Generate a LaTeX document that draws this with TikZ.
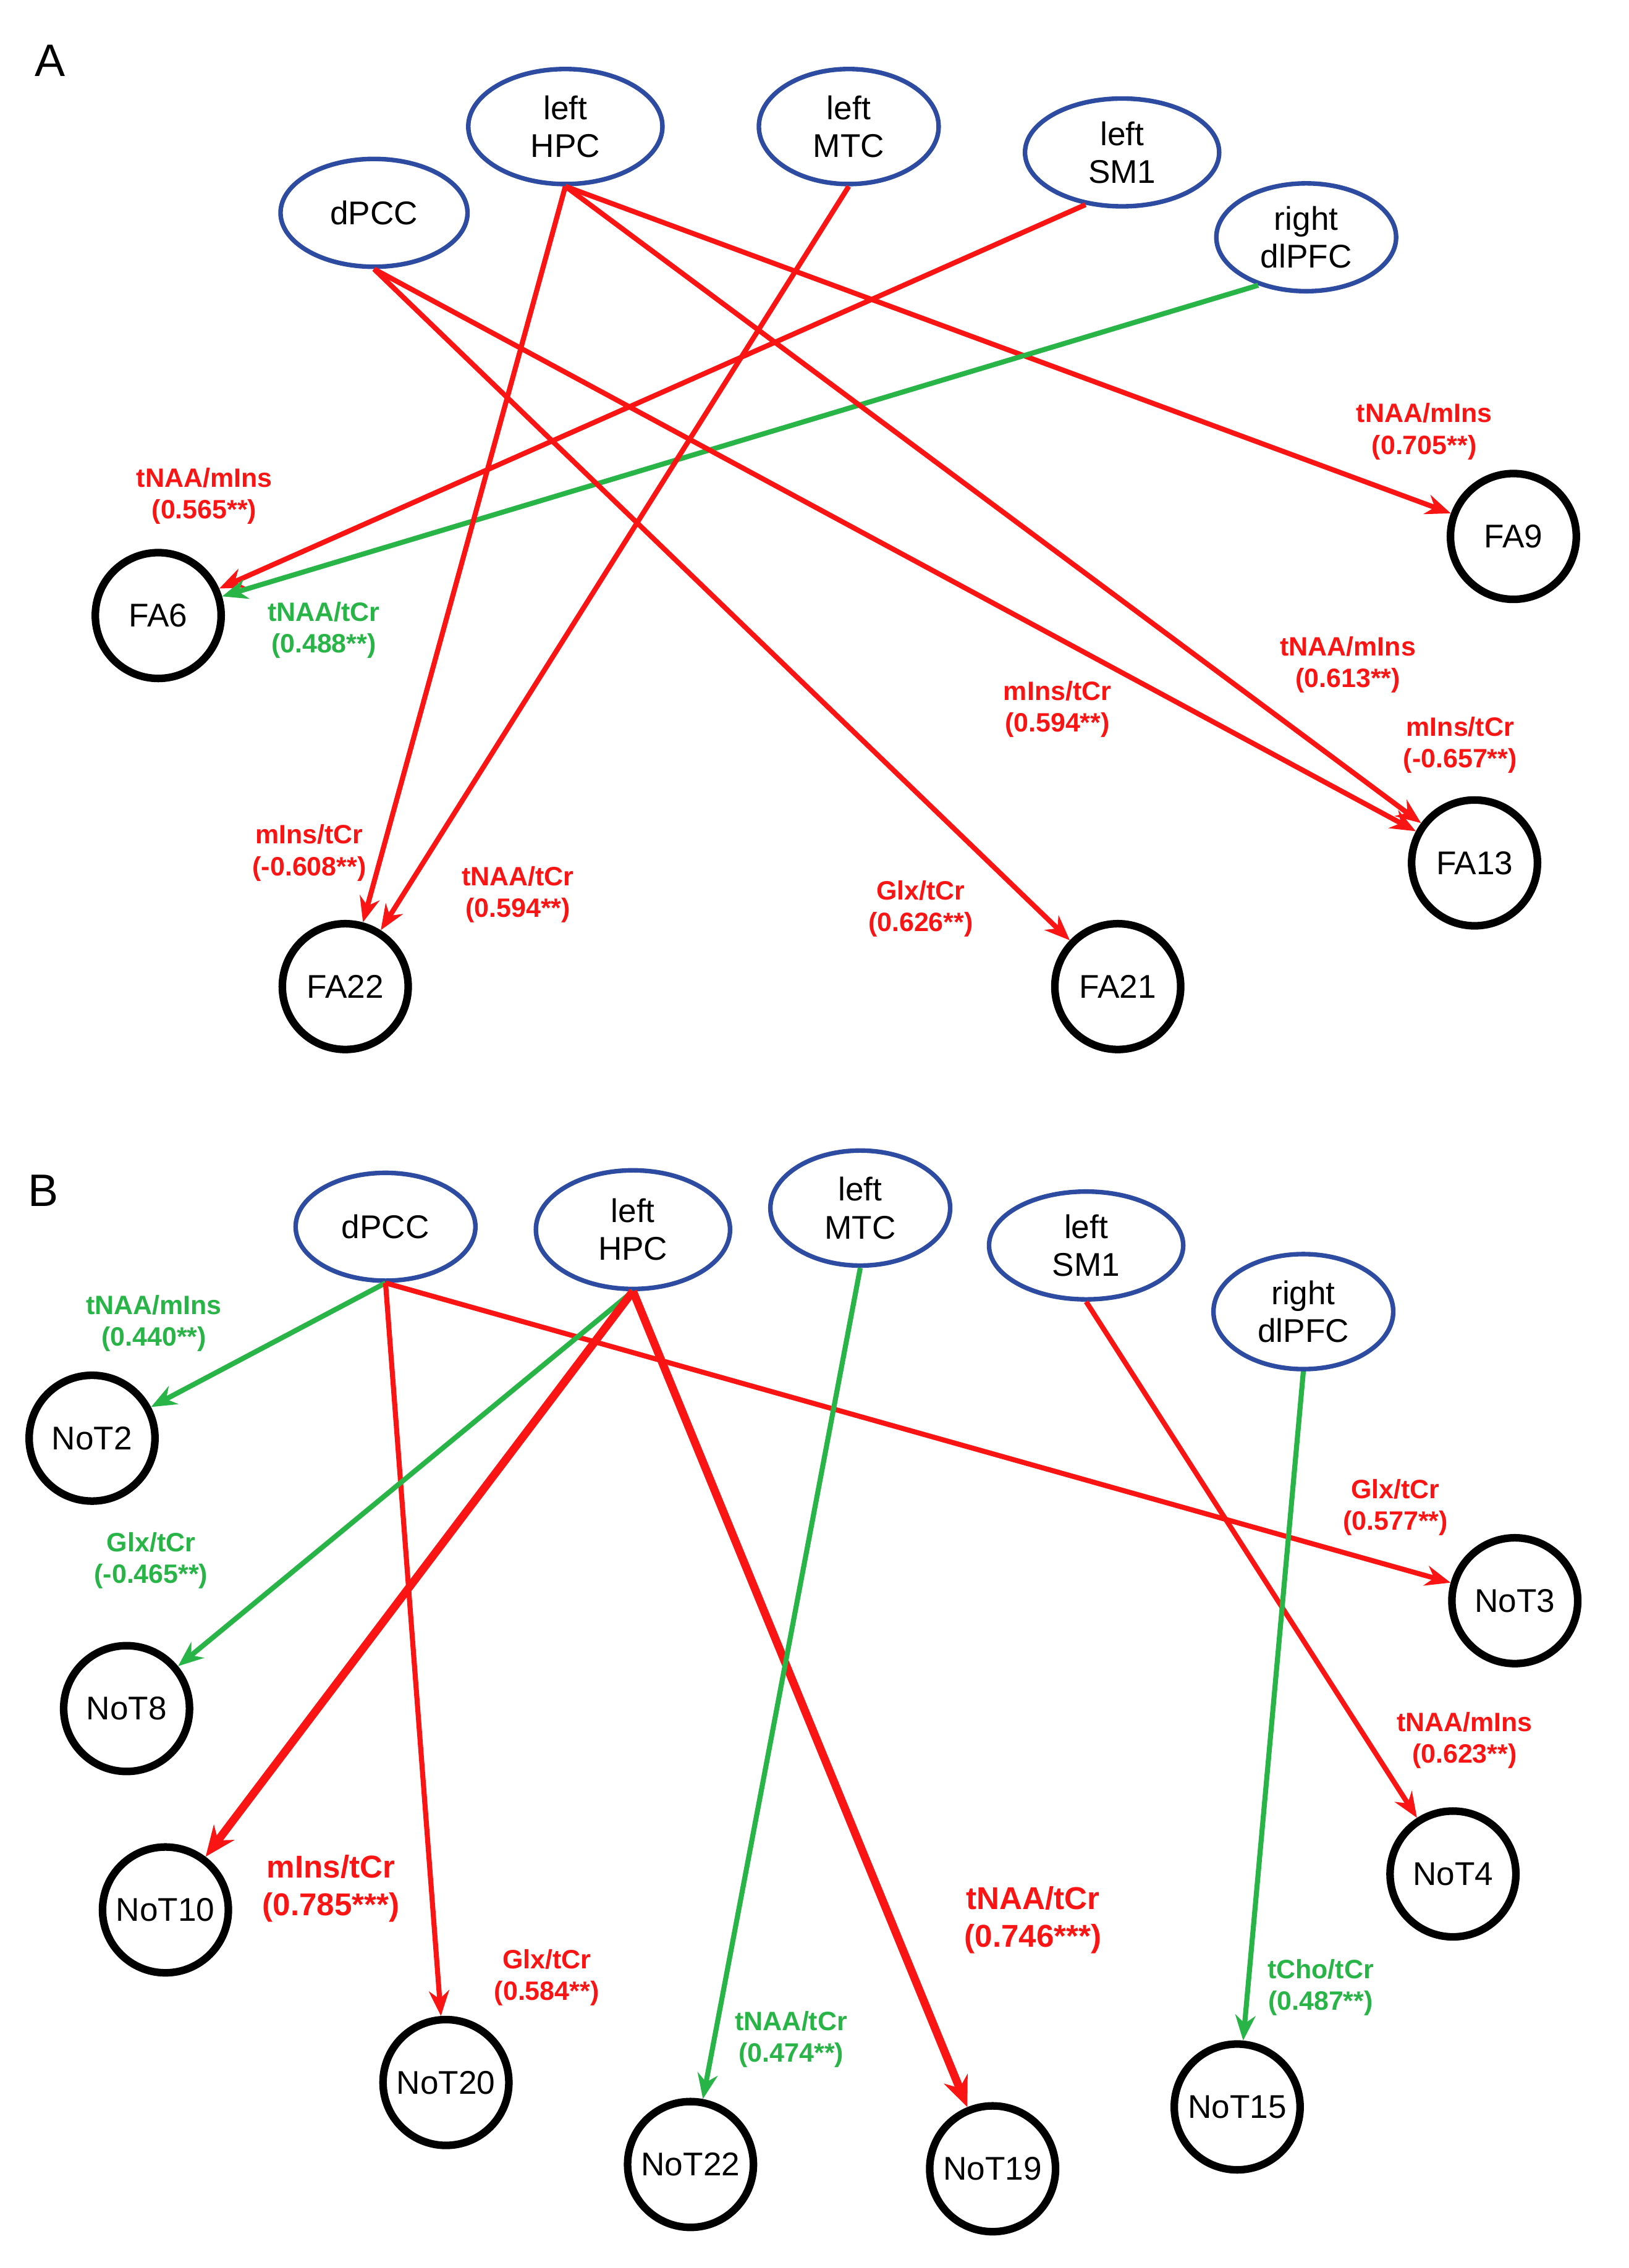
\documentclass[tikz,border=0pt]{standalone}
\usepackage{fontspec}
\setmainfont{Liberation Sans}
\usetikzlibrary{arrows.meta,shapes.geometric}
\definecolor{myred}{RGB}{250,20,20}
\definecolor{mygreen}{RGB}{40,180,70}
\definecolor{myblue}{RGB}{45,75,160}
\begin{document}
\begin{tikzpicture}[x=0.02cm,y=-0.02cm,
  reg/.style={draw=myblue,line width=1.8pt,ellipse,inner sep=0pt,font=\fontsize{13}{15}\selectfont,align=center},
  tgt/.style={draw=black,line width=3pt,circle,minimum size=1.75cm,inner sep=0pt,font=\fontsize{13}{15}\selectfont},
  r/.style={draw=myred,line width=2pt,-{Stealth[length=10pt,width=8pt]}},
  g/.style={draw=mygreen,line width=2pt,-{Stealth[length=10pt,width=8pt]}},
  rt/.style={draw=myred,line width=3.2pt,-{Stealth[length=12pt,width=10pt]}},
  lr/.style={text=myred,font=\bfseries\fontsize{10.5}{12.5}\selectfont,align=center},
  lg/.style={text=mygreen,font=\bfseries\fontsize{10.5}{12.5}\selectfont,align=center},
  lrb/.style={text=myred,font=\bfseries\fontsize{12.5}{15}\selectfont,align=center}]
\useasboundingbox (0,0) rectangle (1132,1577);
\node[font=\fontsize{18}{20}\selectfont] (la) at (35,42) {A};
\node[font=\fontsize{18}{20}\selectfont] (lb) at (30,828) {B};
% Panel A
\node[reg,minimum width=2.6cm,minimum height=1.5cm] (adpcc) at (260,148) {dPCC};
\node[reg,minimum width=2.7cm,minimum height=1.6cm] (ahpc) at (393,88) {left\\HPC};
\node[reg,minimum width=2.5cm,minimum height=1.6cm] (amtc) at (590,88) {left\\MTC};
\node[reg,minimum width=2.7cm,minimum height=1.5cm] (asm1) at (780,106) {left\\SM1};
\node[reg,minimum width=2.5cm,minimum height=1.5cm] (adl) at (908,165) {right\\dlPFC};
\node[tgt] (fa9) at (1052,373) {FA9};
\node[tgt] (fa6) at (110,428) {FA6};
\node[tgt] (fa13) at (1025,600) {FA13};
\node[tgt] (fa22) at (240,686) {FA22};
\node[tgt] (fa21) at (777,686) {FA21};
\draw[r] (ahpc.south) -- (fa9);
\draw[r] (asm1.235) -- (fa6);
\draw[g] (adl.225) -- (fa6);
\draw[r] (ahpc.south) -- (fa13);
\draw[r] (adpcc.south) -- (fa13);
\draw[r] (adpcc.south) -- (fa21);
\draw[r] (ahpc.south) -- (fa22);
\draw[r] (amtc.south) -- (fa22);
\node[lr] (t1) at (990,300) {tNAA/mIns\\(0.705**)};
\node[lr] (t2) at (142,345) {tNAA/mIns\\(0.565**)};
\node[lg] (t3) at (225,438) {tNAA/tCr\\(0.488**)};
\node[lr] (t4) at (937,462) {tNAA/mIns\\(0.613**)};
\node[lr] (t5) at (735,493) {mIns/tCr\\(0.594**)};
\node[lr] (t6) at (1015,518) {mIns/tCr\\(-0.657**)};
\node[lr] (t7) at (640,632) {Glx/tCr\\(0.626**)};
\node[lr] (t8) at (215,593) {mIns/tCr\\(-0.608**)};
\node[lr] (t9) at (360,622) {tNAA/tCr\\(0.594**)};
% Panel B
\node[reg,minimum width=2.5cm,minimum height=1.5cm] (bdpcc) at (268,853) {dPCC};
\node[reg,minimum width=2.7cm,minimum height=1.65cm] (bhpc) at (440,855) {left\\HPC};
\node[reg,minimum width=2.5cm,minimum height=1.6cm] (bmtc) at (598,840) {left\\MTC};
\node[reg,minimum width=2.7cm,minimum height=1.5cm] (bsm1) at (755,866) {left\\SM1};
\node[reg,minimum width=2.5cm,minimum height=1.6cm] (bdl) at (906,912) {right\\dlPFC};
\node[tgt] (n2) at (64,1000) {NoT2};
\node[tgt] (n3) at (1053,1113) {NoT3};
\node[tgt] (n8) at (88,1188) {NoT8};
\node[tgt] (n4) at (1010,1303) {NoT4};
\node[tgt] (n10) at (115,1328) {NoT10};
\node[tgt] (n20) at (310,1448) {NoT20};
\node[tgt] (n15) at (860,1465) {NoT15};
\node[tgt] (n22) at (480,1505) {NoT22};
\node[tgt] (n19) at (690,1508) {NoT19};
\draw[g] (bdpcc.south) -- (n2);
\draw[r] (bdpcc.south) -- (n3);
\draw[r] (bdpcc.south) -- (n20);
\draw[g] (bhpc.south) -- (n8);
\draw[rt] (bhpc.south) -- (n10);
\draw[rt] (bhpc.south) -- (n19);
\draw[g] (bmtc.south) -- (n22);
\draw[r] (bsm1.south) -- (n4);
\draw[g] (bdl.south) -- (n15);
\node[lg] (u1) at (107,920) {tNAA/mIns\\(0.440**)};
\node[lr] (u2) at (970,1048) {Glx/tCr\\(0.577**)};
\node[lr] (u3) at (380,1375) {Glx/tCr\\(0.584**)};
\node[lg] (u4) at (105,1085) {Glx/tCr\\(-0.465**)};
\node[lrb] (u5) at (230,1313) {mIns/tCr\\(0.785***)};
\node[lrb] (u6) at (718,1335) {tNAA/tCr\\(0.746***)};
\node[lg] (u7) at (550,1418) {tNAA/tCr\\(0.474**)};
\node[lr] (u8) at (1018,1210) {tNAA/mIns\\(0.623**)};
\node[lg] (u9) at (918,1382) {tCho/tCr\\(0.487**)};
\end{tikzpicture}
\end{document}
